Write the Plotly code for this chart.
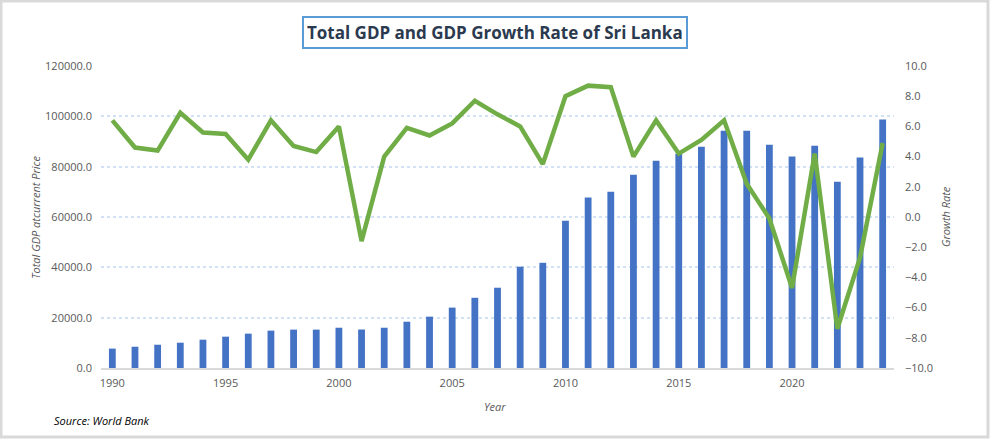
import plotly.graph_objects as go

years = list(range(1990, 2025))
gdp = [7700, 8450, 9250, 10050, 11250, 12450, 13650, 14850, 15250, 15250,
       16000, 15300, 16000, 18400, 20400, 24000, 27900, 31900, 40250, 41800,
       58500, 67700, 70000, 76800, 82400, 85100, 87900, 94300, 94300, 88700,
       84000, 88300, 74000, 83600, 98700]
growth = [6.4, 4.6, 4.4, 6.9, 5.6, 5.5, 3.8, 6.4, 4.7, 4.3,
          6.0, -1.6, 4.0, 5.9, 5.4, 6.2, 7.7, 6.8, 6.0, 3.5,
          8.0, 8.7, 8.6, 4.0, 6.4, 4.2, 5.1, 6.4, 2.2, -0.1,
          -4.7, 4.2, -7.4, -2.7, 4.9]
xticks = [1990, 1995, 2000, 2005, 2010, 2015, 2020]

W, H = 990, 439
L, R, T, B = 101, 894, 66, 368

def px(x):
    return (x - L) / (R - L)

def py(y):
    return (B - y) / (B - T)

tick_font = dict(family="Open Sans, Lato, sans-serif", size=11, color="#595959")

fig = go.Figure()
fig.add_trace(go.Bar(x=years, y=gdp, width=0.3, marker=dict(color="#4472C4", line=dict(width=0)),
                     name="GDP", yaxis="y"))
fig.add_trace(go.Scatter(x=years, y=growth, mode="lines", line=dict(color="#70AD47", width=4.5),
                         name="Growth", yaxis="y2"))

fig.update_layout(
    width=W, height=H,
    margin=dict(l=L, r=W - R, t=T, b=H - B),
    paper_bgcolor="white", plot_bgcolor="white",
    showlegend=False,
    xaxis=dict(range=[1989.5, 2024.5], tickmode="array", tickvals=xticks,
               ticktext=[str(v) for v in xticks], showgrid=False, zeroline=False,
               showline=True, linecolor="#D9D9D9", linewidth=2, ticks="",
               tickfont=tick_font, ticklabelstandoff=4),
    yaxis=dict(range=[0, 120000], dtick=20000, tickformat=".1f", showgrid=True,
               gridcolor="#D2E2F4", griddash="dot", gridwidth=2, zeroline=False,
               showline=False, ticks="", tickfont=tick_font, ticklabelstandoff=8),
    yaxis2=dict(range=[-10, 10], dtick=2, tickformat=".1f", overlaying="y", side="right",
                showgrid=False, zeroline=False, showline=False, ticks="",
                tickfont=tick_font, ticklabelstandoff=10),
)

ann_font = dict(family="Open Sans, Lato, sans-serif", size=11, color="#595959", style="italic")
fig.add_annotation(x=px(35), y=py(217), xref="paper", yref="paper", text="Total GDP atcurrent Price",
                   textangle=-90, showarrow=False, font=ann_font, xanchor="center", yanchor="middle")
fig.add_annotation(x=px(945), y=py(217), xref="paper", yref="paper", text="Growth Rate",
                   textangle=-90, showarrow=False, font=ann_font, xanchor="center", yanchor="middle")
fig.add_annotation(x=px(495), y=py(407), xref="paper", yref="paper", text="Year",
                   showarrow=False, font=ann_font, xanchor="center", yanchor="middle")
fig.add_annotation(x=px(52), y=py(421), xref="paper", yref="paper", text="Source: World Bank",
                   showarrow=False, font=dict(family="Open Sans, Lato, sans-serif", size=11,
                                              color="#000000", style="italic"),
                   xanchor="left", yanchor="middle")
fig.add_annotation(x=px(495), y=py(32), xref="paper", yref="paper",
                   text="<b>Total GDP and GDP Growth Rate of Sri Lanka</b>",
                   showarrow=False, font=dict(family="Open Sans, Lato, sans-serif", size=17,
                                              color="#2B3A4E"),
                   xanchor="center", yanchor="middle", bordercolor="#5B9BD5", borderwidth=2,
                   borderpad=3, bgcolor="white")

fig.add_shape(type="rect", xref="paper", yref="paper", x0=px(1), x1=px(988), y0=py(437), y1=py(1),
              line=dict(color="#D9D9D9", width=3), fillcolor="rgba(0,0,0,0)", layer="above")

fig.write_html("out.html")
